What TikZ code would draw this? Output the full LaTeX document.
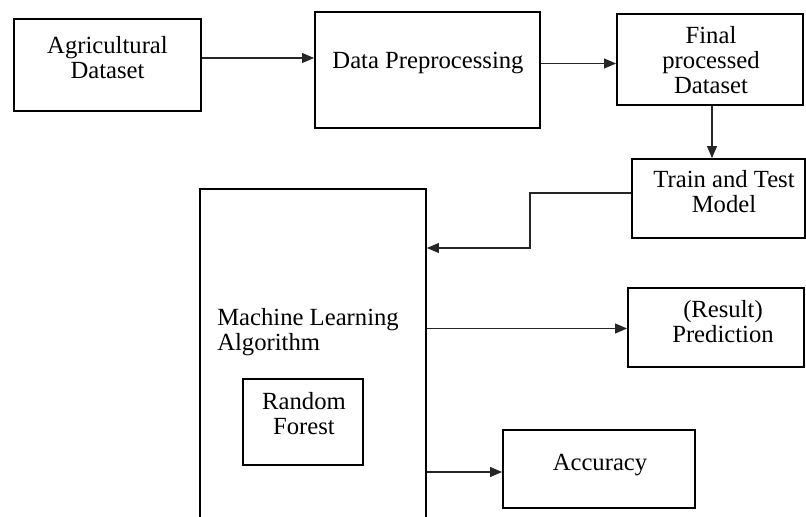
\documentclass[tikz,border=0pt]{standalone}
\usepackage{fontspec}
\setmainfont{Liberation Serif}
\usetikzlibrary{arrows.meta}
\begin{document}
\begin{tikzpicture}[x=0.75pt,y=-0.75pt,
  box/.style={draw=black, line width=1.4pt, rectangle, inner sep=0pt},
  txt/.style={inner sep=0pt, align=center, font=\fontsize{18.5}{18.75}\selectfont},
  conn/.style={draw=black!85, line width=0.8pt, -{Triangle[length=9pt,width=7.5pt]}}]
\useasboundingbox (0,0) rectangle (806,517);
\clip (0,0) rectangle (806,517);
% boxes
\node[box, minimum width=140.25pt, minimum height=69pt]    (agri)  at (107.5,65) {};
\node[box, minimum width=168.75pt, minimum height=87pt]    (prep)  at (427.5,70) {};
\node[box, minimum width=139.5pt,  minimum height=68.25pt] (final) at (710,59.5) {};
\node[box, minimum width=129.75pt, minimum height=59.25pt] (train) at (718.5,198.5) {};
\node[box, minimum width=169.5pt,  minimum height=267pt]   (ml)    at (313,367) {};
\node[box, minimum width=90pt,     minimum height=64.5pt]  (rf)    at (303,422) {};
\node[box, minimum width=132pt,    minimum height=59.25pt] (pred)  at (716,327.5) {};
\node[box, minimum width=144pt,    minimum height=58.5pt]  (acc)   at (599,469) {};
% texts
\node[txt] (agriT)  at (107.5,57.3) {Agricultural\\Dataset};
\node[txt] (prepT)  at (428,63.4)   {Data Preprocessing};
\node[txt] (finalT) at (711,59.8)   {Final\\processed\\Dataset};
\node[txt] (trainT) at (724,191.3)  {Train and Test\\Model};
\node[txt, anchor=west, align=left] (mlT) at (217,331.9) {Machine Learning\\Algorithm};
\node[txt] (rfT)    at (304,413.3)  {Random\\Forest};
\node[txt] (predT)  at (723,322)    {(Result)\\Prediction};
\node[txt] (accT)   at (600,464.6)  {Accuracy};
% connectors
\draw[conn] (agri.east |- 0,58) -- (prep.west |- 0,58);
\draw[conn] (prep.east |- 0,63.5) -- (final.west |- 0,63.5);
\draw[conn] (final.south -| 712,0) -- (train.north -| 712,0);
\draw[conn] (train.west |- 0,193) -- (530,193) -- (530,248) -- (ml.east |- 0,248);
\draw[conn] (ml.east |- 0,328.5) -- (pred.west |- 0,328.5);
\draw[conn] (ml.east |- 0,472) -- (acc.west |- 0,472);
\end{tikzpicture}
\end{document}
